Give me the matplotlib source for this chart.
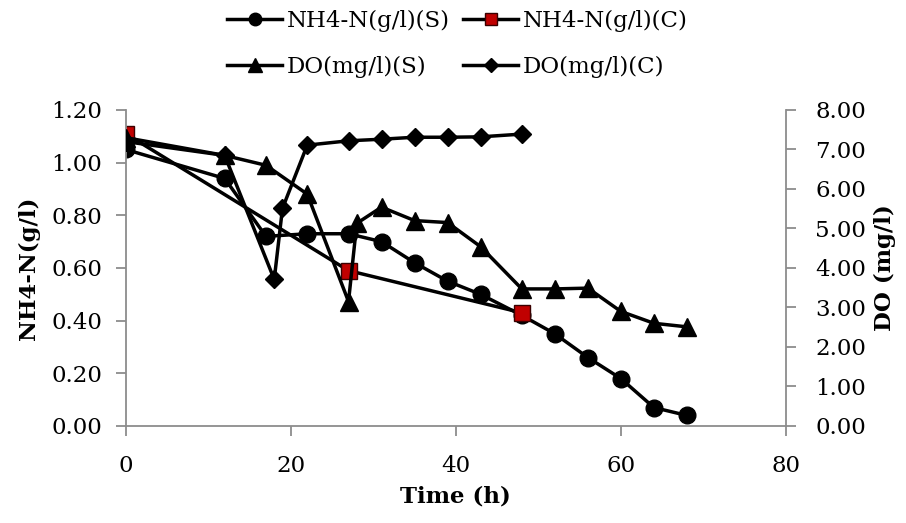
import numpy as np
import matplotlib
matplotlib.use('Agg')
import matplotlib.pyplot as plt

# NH4-N (g/l), S and C runs
t_nh4_s = [0, 12, 17, 22, 27, 31, 35, 39, 43, 48, 52, 56, 60, 64, 68]
nh4_s = [1.05, 0.94, 0.72, 0.73, 0.73, 0.70, 0.62, 0.55, 0.50, 0.42, 0.35, 0.26, 0.18, 0.07, 0.04]
t_nh4_c = [0, 27, 48]
nh4_c = [1.11, 0.59, 0.43]

# DO (mg/l), S and C runs
t_do_s = [0, 12, 17, 22, 27, 28, 31, 35, 39, 43, 48, 52, 56, 60, 64, 68]
do_s = [7.30, 6.85, 6.60, 5.87, 3.15, 5.13, 5.54, 5.20, 5.15, 4.54, 3.47, 3.47, 3.49, 2.90, 2.60, 2.51]
t_do_c = [0, 12, 18, 19, 22, 27, 31, 35, 39, 43, 48]
do_c = [7.20, 6.85, 3.71, 5.51, 7.11, 7.22, 7.26, 7.31, 7.31, 7.32, 7.39]

plt.rcParams['font.family'] = 'DejaVu Serif'
axis_col = '#8c8c8c'
fs = 16.5

fig = plt.figure(figsize=(9.06, 5.23), dpi=100)
ax1 = fig.add_axes([0.1387, 0.1855, 0.7288, 0.6042])
ax2 = ax1.twinx()

l1, = ax1.plot(t_nh4_s, nh4_s, color='black', lw=2.5, marker='o', ms=12,
               label='NH4-N(g/l)(S)')
l2, = ax1.plot(t_nh4_c, nh4_c, color='black', lw=2.5, marker='s', ms=12,
               mfc='#c00000', mec='#3a0000', mew=1.0, label='NH4-N(g/l)(C)')
l3, = ax2.plot(t_do_s, do_s, color='black', lw=2.5, marker='^', ms=13,
               label='DO(mg/l)(S)')
l4, = ax2.plot(t_do_c, do_c, color='black', lw=2.5, marker='D', ms=9,
               label='DO(mg/l)(C)')

ax1.set_xlim(0, 80)
ax1.set_ylim(0, 1.2)
ax2.set_ylim(0, 8)
ax1.set_xticks(np.arange(0, 81, 20))
ax1.set_yticks(np.arange(0, 1.21, 0.2))
ax2.set_yticks(np.arange(0, 8.01, 1))
ax1.set_yticklabels(['%.2f' % v for v in np.arange(0, 1.21, 0.2)])
ax2.set_yticklabels(['%.2f' % v for v in np.arange(0, 8.01, 1)])

for ax in (ax1, ax2):
    ax.spines['top'].set_visible(False)
    for s in ('left', 'right', 'bottom'):
        ax.spines[s].set_color(axis_col)
        ax.spines[s].set_linewidth(1.3)
    ax.tick_params(colors=axis_col, labelcolor='black', labelsize=fs,
                   length=7, width=1.3, direction='out')
ax1.spines['right'].set_visible(False)
ax2.spines['left'].set_visible(False)
ax2.spines['bottom'].set_visible(False)
ax1.tick_params(axis='x', pad=14)
ax1.tick_params(axis='y', pad=10)
ax2.tick_params(axis='y', pad=14)

ax1.set_xlabel('Time (h)', fontsize=fs, fontweight='bold', labelpad=6)
ax1.set_ylabel('NH4-N(g/l)', fontsize=fs, fontweight='bold', labelpad=8)
ax2.set_ylabel('DO (mg/l)', fontsize=fs, fontweight='bold', labelpad=6)

fig.legend([l1, l3, l2, l4], [l1.get_label(), l3.get_label(), l2.get_label(), l4.get_label()],
           loc='upper center', bbox_to_anchor=(0.505, 1.02), ncol=2, frameon=False,
           fontsize=fs, handlelength=2.4, labelspacing=1.05, columnspacing=0.6,
           handletextpad=0.2, markerscale=0.75)

fig.savefig('out.png', dpi=100)
